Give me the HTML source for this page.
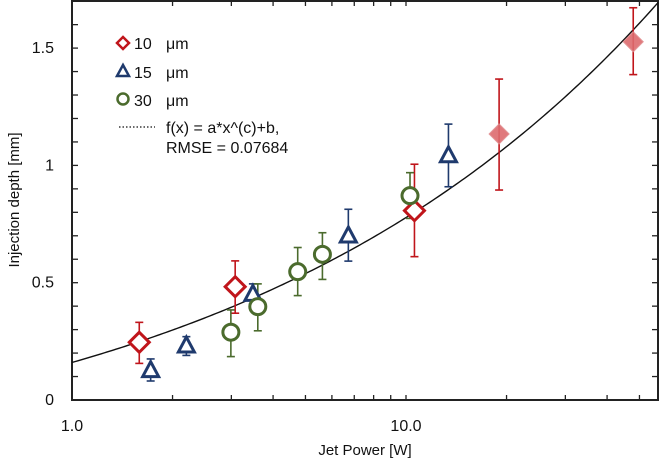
<!DOCTYPE html>
<html><head><meta charset="utf-8"><style>
html,body{margin:0;padding:0;background:#fff;}
svg{display:block;font-family:"Liberation Sans","DejaVu Sans",sans-serif;}
</style></head><body>
<svg id="chart" width="666" height="466" viewBox="0 0 666 466" xmlns="http://www.w3.org/2000/svg"></svg>
<script>
const red10X=[1.59,3.08,10.6];
const red10Y=[0.246,0.483,0.807];
const red10Hi=[0.331,0.593,1.005];
const red10Lo=[0.156,0.37,0.611];
const redFadedX=[19.0,47.9];
const redFadedY=[1.134,1.527];
const redFadedHi=[1.368,1.672];
const redFadedLo=[0.895,1.387];
const blue15X=[1.72,2.20,3.48,6.72,13.4];
const blue15Y=[0.125,0.23,0.45,0.699,1.041];
const blue15Hi=[0.175,0.27,0.495,0.813,1.176];
const blue15Lo=[0.081,0.19,0.41,0.592,0.909];
const green30X=[2.99,3.60,4.74,5.62,10.28];
const green30Y=[0.289,0.398,0.547,0.621,0.871];
const green30Hi=[0.384,0.495,0.65,0.713,0.969];
const green30Lo=[0.185,0.295,0.445,0.514,0.774];
const fitA=0.52, fitB=-0.36, fitC=0.34;
const yTickLabels=["0","0.5","1","1.5"];
const yTickValues=[0,0.5,1,1.5];
const xTickLabels=["1.0","10.0"];
const xTickValues=[1,10];

const L=72,R=658,T=1,B=400;
const xMin=1,xMax=Math.pow(10,(R-L)/334);
const yMin=0,yMax=(B-T)/234.6;
function sx(v){return L+(Math.log10(v)-Math.log10(xMin))/(Math.log10(xMax)-Math.log10(xMin))*(R-L);}
function sy(v){return B-(v-yMin)/(yMax-yMin)*(B-T);}
const svg=document.getElementById('chart');
const NS='http://www.w3.org/2000/svg';
function mk(tag,attrs,parent){const e=document.createElementNS(NS,tag);for(const k in attrs)e.setAttribute(k,attrs[k]);(parent||svg).appendChild(e);return e;}

const frame=mk('rect',{x:L,y:T,width:R-L,height:B-T,fill:'none',stroke:'#222','stroke-width':2});



const xt=[];
for(let d=1;d<=10;d*=10)for(let m=1;m<10;m++){const v=m*d;if(v<=xMax)xt.push(v);}
xt.forEach(v=>{
  const x=sx(v);
  const t1=mk('line',{x1:x,y1:B,x2:x,y2:B-5,stroke:'#222','stroke-width':1.3});
  
  
  const t2=mk('line',{x1:x,y1:T,x2:x,y2:T+5,stroke:'#222','stroke-width':1.3});
  
  
});
xTickValues.forEach((v,i)=>{
  const t=mk('text',{x:sx(v),y:B+31,'text-anchor':'middle','font-size':16,fill:'#111'});
  t.textContent=xTickLabels[i];
  
  
});
for(let k=1;k*0.1<yMax;k++){
  const y=sy(k*0.1);
  const a=mk('line',{x1:L,y1:y,x2:L+6,y2:y,stroke:'#222','stroke-width':1.3});
  
  
  const b=mk('line',{x1:R,y1:y,x2:R-6,y2:y,stroke:'#222','stroke-width':1.3});
  
  
}
yTickValues.forEach((v,i)=>{
  const t=mk('text',{x:54,y:sy(v)+5,'text-anchor':'end','font-size':16,fill:'#111'});
  t.textContent=yTickLabels[i];
  
  
});
const xt1=mk('text',{x:365,y:455,'text-anchor':'middle','font-size':15,fill:'#111'});
xt1.textContent='Jet Power [W]';


const yt1=mk('text',{x:0,y:0,'text-anchor':'middle','font-size':15,fill:'#111',transform:'translate(19,200) rotate(-90)'});
yt1.textContent='Injection depth [mm]';



let d='';
for(let i=0;i<=200;i++){const lv=Math.log10(xMin)+i/200*(Math.log10(xMax)-Math.log10(xMin));const v=Math.pow(10,lv);const y=fitA*Math.pow(v,fitC)+fitB;d+=(i?'L':'M')+sx(v).toFixed(2)+','+Math.max(sy(y),T).toFixed(2);}
const fit=mk('path',{d:d,fill:'none',stroke:'#111','stroke-width':1.4});



function errbar(x,hi,lo,col,name){
  const g=mk('g',{stroke:col,'stroke-width':1.6,fill:'none'});
  
  
  const px=sx(x),a=sy(hi),b=sy(lo);
  mk('line',{x1:px,y1:a,x2:px,y2:b},g);
  mk('line',{x1:px-4,y1:a,x2:px+4,y2:a},g);
  mk('line',{x1:px-4,y1:b,x2:px+4,y2:b},g);
}
function diamond(cx,cy,r,attrs){return mk('polygon',Object.assign({points:`${cx},${cy-r} ${cx+r},${cy} ${cx},${cy+r} ${cx-r},${cy}`},attrs));}
function tri(cx,cy,attrs){return mk('polygon',Object.assign({points:`${cx},${cy-9} ${cx+8},${cy+6} ${cx-8},${cy+6}`},attrs));}

const RED='#c0151b',BLUE='#1f3a6d',GREEN='#4b6b2d';
red10X.forEach((x,i)=>errbar(x,red10Hi[i],red10Lo[i],RED,'error-bar-10um'));
redFadedX.forEach((x,i)=>errbar(x,redFadedHi[i],redFadedLo[i],RED,'error-bar-10um'));
blue15X.forEach((x,i)=>errbar(x,blue15Hi[i],blue15Lo[i],BLUE,'error-bar-15um'));
green30X.forEach((x,i)=>errbar(x,green30Hi[i],green30Lo[i],GREEN,'error-bar-30um'));

red10X.forEach((x,i)=>{
  const p=diamond(sx(x),sy(red10Y[i]),10,{fill:'#fff',stroke:RED,'stroke-width':3});
  
  
});
redFadedX.forEach((x,i)=>{
  const p=diamond(sx(x),sy(redFadedY[i]),10,{fill:'#dd6b6e',stroke:'#e08a8c','stroke-width':1,opacity:0.9});
  
  
});
blue15X.forEach((x,i)=>{
  const p=tri(sx(x),sy(blue15Y[i]),{fill:'#fff',stroke:BLUE,'stroke-width':3});
  
  
});
green30X.forEach((x,i)=>{
  const p=mk('circle',{cx:sx(x),cy:sy(green30Y[i]),r:8,fill:'#fff',stroke:GREEN,'stroke-width':3});
  
  
});

const lg=mk('g',{});


diamond(123,43,6,{fill:'#fff',stroke:RED,'stroke-width':2.5});
mk('polygon',{points:'123,65 129,76 117,76',fill:'#fff',stroke:BLUE,'stroke-width':2.5},lg);
mk('circle',{cx:123,cy:99,r:5.5,fill:'#fff',stroke:GREEN,'stroke-width':2.5},lg);
mk('line',{x1:119,y1:127,x2:155,y2:127,stroke:'#111','stroke-width':1.2,'stroke-dasharray':'1.5,2'},lg);
[['10',49,'legend-entry-10um'],['15',78,'legend-entry-15um'],['30',106,'legend-entry-30um']].forEach(r=>{
  const t=mk('text',{x:134,y:r[1],'font-size':16,fill:'#111'},lg);
  t.textContent=r[0];
  
  
  const u=mk('text',{x:166,y:r[1],'font-size':16,fill:'#111'},lg);
  u.textContent='μm';
  
  
});
const f1=mk('text',{x:166,y:133,'font-size':16,fill:'#111'},lg);
f1.textContent='f(x) = a*x^(c)+b,';


const f2=mk('text',{x:166,y:153,'font-size':16,fill:'#111'},lg);
f2.textContent='RMSE = 0.07684';


</script>
</body></html>
